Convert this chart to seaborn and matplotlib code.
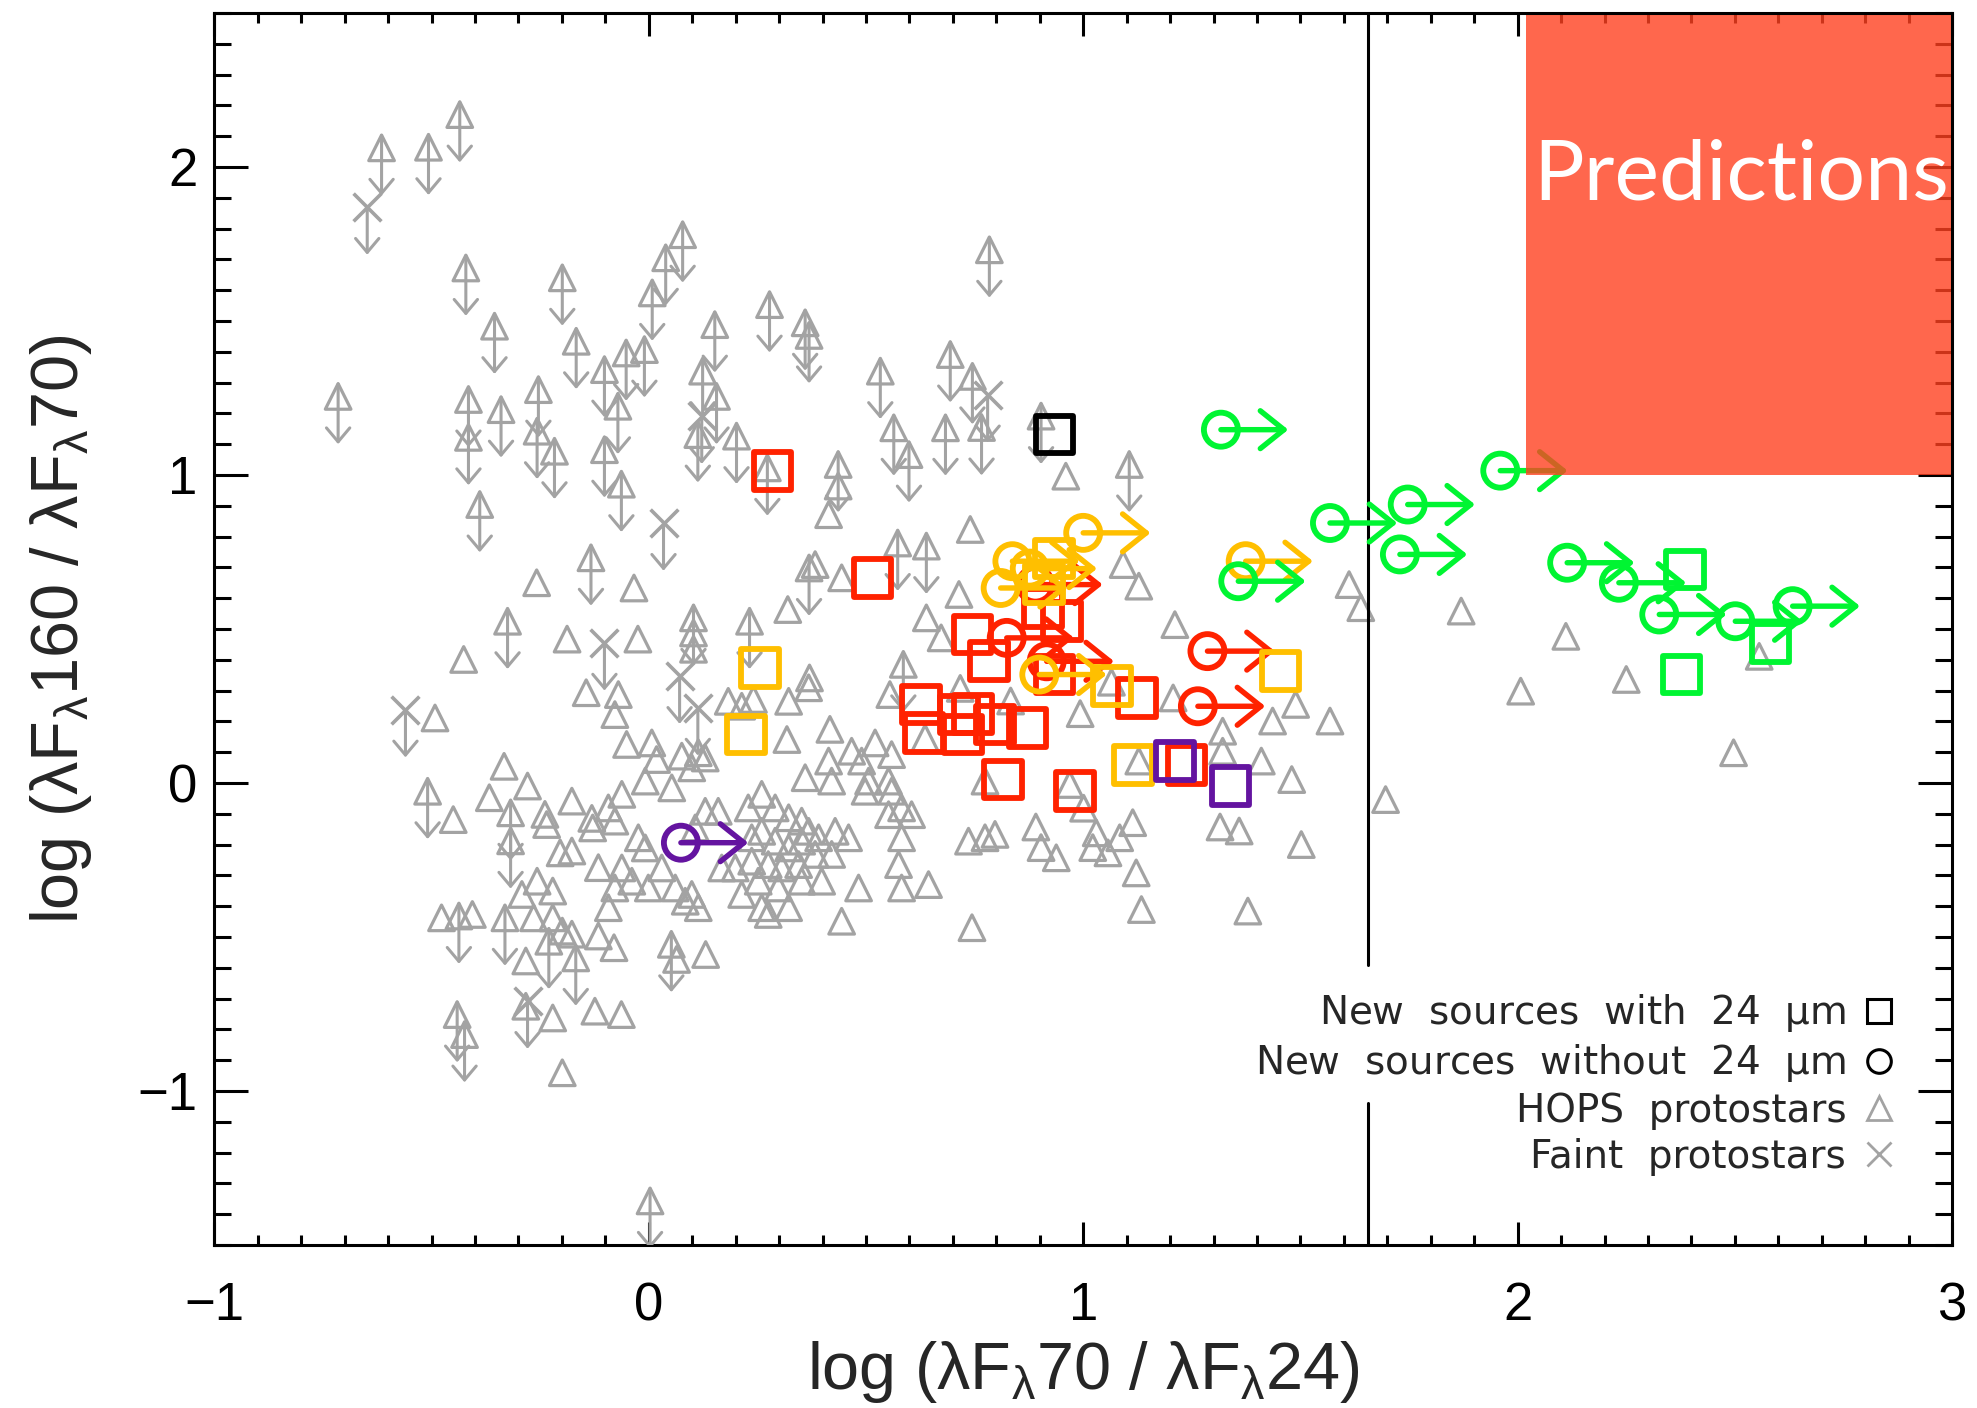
import numpy as np
import pandas as pd
import matplotlib
matplotlib.use("Agg")
import matplotlib.pyplot as plt
import seaborn as sns
from matplotlib import font_manager
from matplotlib.lines import Line2D
from matplotlib.patches import Rectangle

# ---------------------------------------------------------------- data
# HOPS protostars (detections)
hops_x = [-0.258, -0.034, -0.188, -0.025, 0.103, 0.103, 0.320, -0.426, -0.144, -0.492,
          -0.333, -0.279, -0.367, -0.450, -0.239, -0.177, -0.131,
          -0.235, -0.129, -0.204, -0.177, -0.116, -0.257, -0.292, -0.221, -0.477, -0.406,
          -0.265, -0.221, -0.199, -0.177, -0.080, -0.116, 0.064, 0.131, -0.283, -0.283,
          -0.221, -0.124, -0.063, -0.199,
          -0.070, -0.078, -0.051, 0.007, 0.018, 0.076, 0.114, 0.130, 0.099, 0.183, 0.214,
          0.241, 0.322, 0.368, 0.318, 0.417, 0.360, 0.414, 0.421, 0.467, 0.490, 0.521,
          0.506, 0.559, 0.552, 0.498, 0.559, 0.582, 0.605, 0.552, 0.582, 0.260, 0.229,
          0.291, 0.322, 0.352, 0.368, 0.260, 0.237, 0.291, 0.322, 0.352, 0.391, 0.429,
          0.460, 0.421, 0.383, 0.345, 0.306, 0.275, 0.237, 0.199, 0.168, 0.252, 0.298,
          0.352, 0.398, 0.214, 0.260, 0.322, 0.275, 0.099, 0.114, 0.084, 0.061, -0.008,
          -0.062, 0.053, -0.093, -0.078, -0.024, -0.008, -0.062, -0.039, -0.078, -0.001,
          -0.093, 0.130, 0.160, 0.107, 0.030, 0.483, 0.444, 0.575, 0.582, 0.644, 0.736,
          0.774, 0.797, 0.744, 0.774, 0.636,
          0.436, 0.414, 0.960, 0.740, 1.092, 1.128, 0.714, 1.211, 1.612, 1.639, 1.696,
          0.639, 0.383, 0.444, 0.370, 0.555, 1.207, 1.321, 1.321, 1.489, 1.436, 1.568,
          1.128, 1.410, 1.480, 0.969, 1.001, 0.891, 1.315, 0.673, 0.717, 0.833, 0.993,
          1.065,
          0.903, 0.938, 1.030, 1.022, 1.057, 1.084, 1.114, 1.122, 1.134, 1.359, 1.379,
          1.502,
          1.870, 2.111, 2.007, 2.250, 2.556, 2.497]
hops_y = [0.650, 0.633, 0.467, 0.467, 0.487, 0.434, 0.563, 0.401, 0.293, 0.211,
          0.054, -0.010, -0.048, -0.119, -0.102, -0.059, -0.115,
          -0.135, -0.146, -0.227, -0.221, -0.275, -0.319, -0.362, -0.351, -0.438, -0.427,
          -0.438, -0.438, -0.481, -0.491, -0.535, -0.497, -0.573, -0.557, -0.578, -0.725,
          -0.763, -0.741, -0.752, -0.941,
          0.287, 0.222, 0.125, 0.130, 0.076, 0.087, 0.098, 0.081, 0.049, 0.265, 0.249,
          0.271, 0.265, 0.309, 0.141, 0.174, 0.017, 0.071, 0.006, 0.103, 0.071, 0.130,
          0.006, 0.092, 0.006, -0.027, -0.027, -0.081, -0.103, -0.103, -0.178, -0.037, -0.081,
          -0.081, -0.113, -0.124, -0.157, -0.157, -0.178, -0.189, -0.211, -0.189, -0.178, -0.157,
          -0.178, -0.232, -0.232, -0.265, -0.276, -0.265, -0.254, -0.276, -0.276, -0.319, -0.341,
          -0.319, -0.319, -0.362, -0.405, -0.405, -0.427, -0.362, -0.405, -0.384, -0.341, 0.006,
          -0.037, -0.016, -0.081, -0.124, -0.178, -0.211, -0.276, -0.319, -0.341, -0.341,
          -0.405, -0.092, -0.092, -0.146, -0.276, -0.341, -0.449, -0.265, -0.341, -0.330, -0.189,
          -0.178, -0.167, -0.470, 0.006, 0.146,
          0.964, 0.871, 0.996, 0.823, 0.709, 0.639, 0.612, 0.514, 0.644, 0.569, -0.054,
          0.536, 0.709, 0.666, 0.341, 0.287, 0.276, 0.168, 0.103, 0.255, 0.201, 0.201,
          0.071, 0.071, 0.011, -0.005, -0.082, -0.143, -0.143, 0.471, 0.307, 0.266, 0.225,
          0.327,
          -0.210, -0.243, -0.162, -0.210, -0.227, -0.178, -0.129, -0.292, -0.411, -0.156, -0.416,
          -0.200,
          0.558, 0.476, 0.298, 0.336, 0.411, 0.098]

# HOPS protostars with 160 um upper limits
hops_ul_x = [-0.615, -0.507, -0.435, -0.421, -0.355, -0.199, -0.167, -0.102, -0.052, -0.010,
             0.008, 0.039, 0.078, 0.152, 0.278, 0.360, 0.369, 0.124, 0.156, -0.715,
             -0.415, -0.340, -0.254, -0.071, 0.784, 0.533, 0.694, 0.745, 0.903, 0.564,
             0.683, 0.766, 0.599, 0.436, 1.106, -0.415, -0.257, -0.217, -0.102, -0.063,
             0.113, 0.202, 0.273, -0.389, -0.133, -0.325, 0.103, 0.232, 0.586, 0.573,
             0.639, -0.509, -0.318, -0.437, -0.331, -0.230, -0.168, 0.052, -0.441, -0.424,
             0.003, -0.318, 0.369]
hops_ul_y = [2.062, 2.064, 2.170, 1.672, 1.483, 1.640, 1.434, 1.342, 1.396, 1.407,
             1.591, 1.705, 1.780, 1.488, 1.553, 1.494, 1.453, 1.337, 1.255, 1.255,
             1.245, 1.212, 1.277, 1.223, 1.731, 1.337, 1.391, 1.320, 1.191, 1.153,
             1.153, 1.154, 1.066, 1.034, 1.034, 1.122, 1.142, 1.077, 1.082, 0.970,
             1.131, 1.126, 1.023, 0.904, 0.731, 0.525, 0.536, 0.525, 0.385, 0.779,
             0.769, -0.027, -0.097, -0.432, -0.438, -0.514, -0.568, -0.524, -0.752, -0.817,
             -1.357, -0.188, 0.698]

# Faint protostars (all with 160 um upper limits)
faint_x = [-0.648, 0.122, 0.780, 0.034, -0.102, 0.071, 0.113, -0.560, -0.279]
faint_y = [1.870, 1.191, 1.261, 0.844, 0.455, 0.347, 0.244, 0.238, -0.708]

# New sources with 24 um detections
sq_x = [0.285, 0.515, 0.745, 0.784, 0.907, 0.952, 0.934, 0.626, 0.634, 0.714, 0.723,
        0.746, 0.797, 0.872, 0.815, 0.982, 1.123, 1.238,
        0.256, 0.224, 1.066, 1.114, 1.454, 0.932, 0.909,
        1.211, 1.339,
        0.934,
        2.386, 2.582, 2.377]
sq_y = [1.012, 0.666, 0.482, 0.395, 0.569, 0.525, 0.352, 0.255, 0.162, 0.222, 0.157,
        0.225, 0.190, 0.179, 0.011, -0.027, 0.276, 0.059,
        0.374, 0.157, 0.314, 0.059, 0.363, 0.729, 0.647,
        0.071, -0.010,
        1.131,
        0.693, 0.455, 0.352]
sq_group = ["red"] * 18 + ["orange"] * 7 + ["purple"] * 2 + ["black"] + ["green"] * 3

# New sources without 24 um (lower limits in 70/24)
circ_x = [0.916, 1.286, 1.264, 0.824, 0.890,
          1.000, 0.837, 0.810, 0.877, 0.899, 1.374,
          0.074,
          1.317, 1.568, 1.747, 1.729, 1.357, 1.960, 2.114, 2.233, 2.326, 2.501, 2.633]
circ_y = [0.395, 0.428, 0.249, 0.471, 0.644,
          0.812, 0.720, 0.633, 0.696, 0.352, 0.720,
          -0.194,
          1.147, 0.844, 0.904, 0.742, 0.655, 1.014, 0.715, 0.650, 0.547, 0.525, 0.574]
circ_group = ["red"] * 5 + ["orange"] * 6 + ["purple"] + ["green"] * 11

palette = {"red": "#ff2200", "orange": "#ffbf00", "purple": "#6414a0",
           "black": "#000000", "green": "#00f532"}
grey = "#a3a3a3"

# boundary of 24 um detectability and the predicted region
x_boundary = 1.655
pred_x0, pred_y0 = 2.02, 1.0

legend_labels = ["New  sources  with  24  $\\mu$m",
                 "New  sources  without  24  $\\mu$m",
                 "HOPS  protostars",
                 "Faint  protostars"]

# ---------------------------------------------------------------- style
sns.set_style("ticks")
available = {f.name for f in font_manager.fontManager.ttflist}
base_font = "Liberation Sans Narrow" if "Liberation Sans Narrow" in available else "Liberation Sans"
plt.rcParams["font.family"] = [base_font, "DejaVu Sans"]
plt.rcParams["mathtext.default"] = "regular"

fig = plt.figure(figsize=(19.77, 14.08), dpi=100)
ax = fig.add_axes([0.1084, 0.1158, 0.879, 0.875])
ax.set_xlim(-1, 3)
ax.set_ylim(-1.5, 2.5)

# ---------------------------------------------------------------- arrows
UL_DY = 0.155      # length of upper-limit arrows (data units)
LL_DX = 0.155      # length of lower-limit arrows (data units)


def arrow(x0, y0, x1, y1, color, lw, hl, hw, z):
    ann = ax.annotate("", xy=(x1, y1), xytext=(x0, y0), annotation_clip=False,
                      arrowprops=dict(arrowstyle=f"->,head_length={hl},head_width={hw}",
                                      color=color, lw=lw, shrinkA=0, shrinkB=0,
                                      mutation_scale=20), zorder=z)
    ann.arrow_patch.set_clip_box(ax.bbox)
    ann.arrow_patch.set_clip_on(True)


for x, y in zip(hops_ul_x, hops_ul_y):
    arrow(x, y + 0.04, x, y - UL_DY, grey, 2.2, 0.5, 0.42, 3)
for x, y in zip(faint_x, faint_y):
    arrow(x, y, x, y - UL_DY, grey, 2.2, 0.5, 0.42, 3)

# ---------------------------------------------------------------- grey points
sns.scatterplot(x=hops_x + hops_ul_x, y=hops_y + hops_ul_y, marker="^", s=340,
                color=grey, facecolor="none", edgecolor=grey, linewidth=2.3,
                ax=ax, zorder=3, legend=False)
sns.scatterplot(x=faint_x, y=faint_y, marker="x", s=400, color=grey,
                linewidth=2.6, ax=ax, zorder=3, legend=False)

# ---------------------------------------------------------------- new sources
sq = pd.DataFrame({"x": sq_x, "y": sq_y, "group": sq_group})
circ = pd.DataFrame({"x": circ_x, "y": circ_y, "group": circ_group})

for name in ["red", "orange", "purple", "black", "green"]:
    col = palette[name]
    d = sq[sq.group == name]
    if len(d):
        sns.scatterplot(data=d, x="x", y="y", marker="s", s=740, color=col,
                        facecolor="none", edgecolor=col, linewidth=4.2,
                        ax=ax, zorder=5, legend=False)
    d = circ[circ.group == name]
    for x, y in zip(d.x, d.y):
        arrow(x, y, x + LL_DX, y, col, 3.9, 0.85, 0.68, 5)
    if len(d):
        sns.scatterplot(data=d, x="x", y="y", marker="o", s=600, color=col,
                        facecolor="none", edgecolor=col, linewidth=4.2,
                        ax=ax, zorder=5, legend=False)

# ---------------------------------------------------------------- guides
ax.axvline(x_boundary, ymin=0.0, ymax=(-1.04 + 1.5) / 4, color="k", lw=2.2, zorder=4)
ax.axvline(x_boundary, ymin=(-0.59 + 1.5) / 4, ymax=1.0, color="k", lw=2.2, zorder=4)

ax.add_patch(Rectangle((pred_x0, pred_y0), 3 - pred_x0, 2.5 - pred_y0,
                       facecolor="#ff4120", alpha=0.8, edgecolor="none", zorder=10))
txt_font = "Lato" if "Lato" in available else "DejaVu Sans"
ptxt = ax.text(2.037, 1.894, "Predictions", color="white", fontsize=60,
               family=txt_font, ha="left", va="baseline", zorder=11)

# ---------------------------------------------------------------- axes
ax.set_xticks([-1, 0, 1, 2, 3])
ax.set_yticks([-1, 0, 1, 2])
ax.set_xticks(np.arange(-1, 3.001, 0.1), minor=True)
ax.set_yticks(np.arange(-1.5, 2.501, 0.1), minor=True)
ax.tick_params(which="both", direction="in", top=True, right=True, width=2.2,
               colors="k", labelsize=38)
ax.tick_params(axis="x", which="major", length=16.5, pad=26)
ax.tick_params(axis="x", which="minor", length=7.2)
ax.tick_params(axis="y", which="major", length=24.5, pad=12)
ax.tick_params(axis="y", which="minor", length=12.2)
for sp in ax.spines.values():
    sp.set_linewidth(2.2)
    sp.set_color("k")
ax.spines["right"].set_zorder(12)
ax.spines["top"].set_zorder(12)

ax.set_xlabel("log (λF$_{λ}$70 / λF$_{λ}$24)", fontsize=48, labelpad=6)
ax.set_ylabel("log (λF$_{λ}$160 / λF$_{λ}$70)", fontsize=48, labelpad=31)

# ---------------------------------------------------------------- legend
handles = [
    Line2D([], [], marker="s", ls="none", color="k", mfc="none", mew=2.2, ms=17),
    Line2D([], [], marker="o", ls="none", color="k", mfc="none", mew=2.2, ms=17),
    Line2D([], [], marker="^", ls="none", color=grey, mfc="none", mew=2.0, ms=17),
    Line2D([], [], marker="x", ls="none", color=grey, mew=2.0, ms=17),
]
leg = ax.legend(handles, legend_labels, loc="upper right", bbox_to_anchor=(0.967, 0.205),
                markerfirst=False, frameon=False, handlelength=0.8,
                handletextpad=0.45, labelspacing=0.2, borderpad=0, borderaxespad=0,
                prop={"family": "DejaVu Sans", "size": 28})
leg.set_zorder(12)

# fit the box caption to the width of the shaded region
fig.canvas.draw()
bb = ptxt.get_window_extent()
target = ax.transData.transform((2.995, 0))[0] - ax.transData.transform((2.037, 0))[0]
ptxt.set_fontsize(60 * target / bb.width)

fig.savefig("out.png", dpi=100)
